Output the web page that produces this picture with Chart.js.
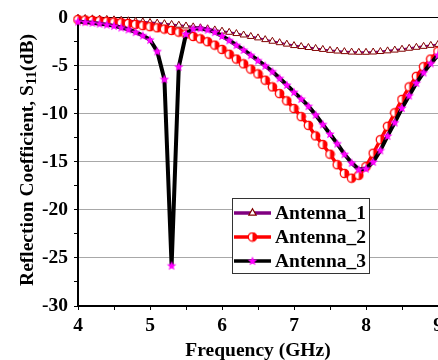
<!DOCTYPE html>
<html>
<head>
<meta charset="utf-8">
<script src="https://cdn.jsdelivr.net/npm/chart.js@4/dist/chart.umd.min.js"></script>
<style>
  html, body { margin: 0; padding: 0; background: #fff; overflow: hidden; }
  #wrap { width: 438px; height: 360px; overflow: hidden; position: relative; }
  canvas { display: block; }
</style>
</head>
<body>
<div id="wrap"><canvas id="c" width="449" height="360"></canvas></div>
<script>
// ---- data ----
const freq = [4.0,4.1,4.2,4.3,4.4,4.5,4.6,4.7,4.8,4.9,
              5.0,5.1,5.2,5.3,5.4,5.5,5.6,5.7,5.8,5.9,
              6.0,6.1,6.2,6.3,6.4,6.5,6.6,6.7,6.8,6.9,
              7.0,7.1,7.2,7.3,7.4,7.5,7.6,7.7,7.8,7.9,
              8.0,8.1,8.2,8.3,8.4,8.5,8.6,8.7,8.8,8.9,9.0];
const antenna1 = [-0.05,-0.08,-0.12,-0.15,-0.18,-0.22,-0.27,-0.32,-0.38,-0.43,
                  -0.5,-0.56,-0.62,-0.7,-0.78,-0.86,-0.95,-1.05,-1.15,-1.27,
                  -1.4,-1.52,-1.65,-1.8,-1.95,-2.1,-2.28,-2.45,-2.6,-2.75,
                  -2.9,-3.0,-3.1,-3.2,-3.3,-3.4,-3.47,-3.53,-3.58,-3.6,
                  -3.6,-3.57,-3.52,-3.45,-3.37,-3.28,-3.18,-3.08,-2.98,-2.88,-2.78];
const antenna2 = [-0.2,-0.24,-0.28,-0.33,-0.38,-0.45,-0.52,-0.6,-0.7,-0.82,
                  -0.93,-1.05,-1.18,-1.33,-1.5,-1.7,-1.95,-2.2,-2.5,-2.85,
                  -3.3,-3.8,-4.3,-4.8,-5.35,-5.85,-6.5,-7.2,-7.9,-8.65,
                  -9.45,-10.3,-11.2,-12.3,-13.2,-14.2,-15.3,-16.2,-16.7,-16.4,
                  -15.5,-14.1,-12.7,-11.3,-9.9,-8.5,-7.2,-6.1,-5.1,-4.3,-3.5];
const antenna3 = [-0.4,-0.46,-0.53,-0.62,-0.72,-0.85,-1.02,-1.22,-1.5,-1.85,
                  -2.3,-3.5,-6.4,-25.8,-5.1,-1.7,-1.15,-1.1,-1.25,-1.5,
                  -1.9,-2.35,-2.85,-3.35,-3.9,-4.45,-5.0,-5.6,-6.3,-7.0,
                  -7.75,-8.45,-9.2,-10.1,-11.1,-12.1,-13.1,-14.2,-15.1,-15.8,
                  -15.7,-15.0,-13.8,-12.3,-10.9,-9.4,-8.1,-6.8,-5.7,-4.75,-3.9];
const seriesNames = ['Antenna_1','Antenna_2','Antenna_3'];
const xTickLabels = [4,5,6,7,8,9];
const yTickLabels = [0,-5,-10,-15,-20,-25,-30];

// ---- marker images ----
function halfCircle(color) {
  const c = document.createElement('canvas'); c.width = 11; c.height = 11;
  const g = c.getContext('2d');
  g.beginPath(); g.arc(5.5,5.5,4.2,0,Math.PI*2); g.fillStyle = '#fff'; g.fill();
  g.beginPath(); g.moveTo(5.5,1.3); g.arc(5.5,5.5,4.2,-Math.PI/2,Math.PI/2); g.closePath();
  g.fillStyle = color; g.fill();
  g.beginPath(); g.arc(5.5,5.5,4.2,0,Math.PI*2); g.lineWidth = 1.3; g.strokeStyle = color; g.stroke();
  return c;
}
function starImg(color) {
  const c = document.createElement('canvas'); c.width = 12; c.height = 12;
  const g = c.getContext('2d');
  const cx = 6, cy = 6.3, ro = 5, ri = 2.1;
  g.beginPath();
  for (let i = 0; i < 10; i++) {
    const r = i % 2 ? ri : ro;
    const a = -Math.PI/2 + i*Math.PI/5;
    const px = cx + r*Math.cos(a), py = cy + r*Math.sin(a);
    i ? g.lineTo(px,py) : g.moveTo(px,py);
  }
  g.closePath(); g.fillStyle = color; g.fill();
  return c;
}
const circleMark = halfCircle('#ff0000');
const starMark = starImg('#ff00ff');

function pts(arr) { return arr.map((v,i) => ({x: freq[i], y: v})); }

const FONT = 'Liberation Serif';

// ---- y title with subscript ----
const yTitlePlugin = {
  id: 'yTitle',
  afterDraw(chart) {
    const ctx = chart.ctx;
    ctx.save();
    ctx.translate(33, 160);
    ctx.rotate(-Math.PI/2);
    ctx.fillStyle = '#000';
    ctx.textBaseline = 'alphabetic';
    const big = 'bold 19.5px "' + FONT + '"';
    const small = 'bold 15px "' + FONT + '"';
    const p1 = 'Reflection Coefficient, S', p2 = '11', p3 = '(dB)';
    ctx.font = big; const w1 = ctx.measureText(p1).width, w3 = ctx.measureText(p3).width;
    ctx.font = small; const w2 = ctx.measureText(p2).width;
    let x = -(w1 + w2 + w3)/2;
    ctx.font = big; ctx.fillText(p1, x, 0); x += w1;
    ctx.font = small; ctx.fillText(p2, x, 3); x += w2;
    ctx.font = big; ctx.fillText(p3, x, 0);
    ctx.restore();
  }
};

// ---- legend ----
const legendPlugin = {
  id: 'boxLegend',
  afterDraw(chart) {
    const ctx = chart.ctx;
    const bx = 232.5, by = 198.5, bw = 137, bh = 75;
    ctx.save();
    ctx.fillStyle = '#fff'; ctx.fillRect(bx, by, bw, bh);
    ctx.strokeStyle = '#333'; ctx.lineWidth = 1; ctx.strokeRect(bx, by, bw, bh);
    const rows = [213, 237, 261];
    chart.data.datasets.forEach((ds, i) => {
      const y = rows[i];
      ctx.beginPath(); ctx.moveTo(234, y); ctx.lineTo(271, y);
      ctx.strokeStyle = ds.borderColor; ctx.lineWidth = 3.5; ctx.stroke();
      const mx = 252.5;
      if (ds.pointStyle === 'triangle') {
        const r = 4.2;
        ctx.beginPath();
        ctx.moveTo(mx, y - r);
        ctx.lineTo(mx + r*Math.sin(2*Math.PI/3), y - r*Math.cos(2*Math.PI/3));
        ctx.lineTo(mx + r*Math.sin(4*Math.PI/3), y - r*Math.cos(4*Math.PI/3));
        ctx.closePath();
        ctx.fillStyle = ds.pointBackgroundColor; ctx.fill();
        ctx.strokeStyle = ds.pointBorderColor; ctx.lineWidth = 1.2; ctx.stroke();
      } else {
        const img = ds.pointStyle;
        ctx.drawImage(img, mx - img.width/2, y - img.height/2);
      }
      ctx.fillStyle = '#000';
      ctx.font = 'bold 19.5px "' + FONT + '"';
      ctx.textBaseline = 'middle'; ctx.textAlign = 'left';
      ctx.fillText(ds.label, 275, y + 1);
    });
    ctx.restore();
  }
};

new Chart(document.getElementById('c'), {
  type: 'line',
  data: {
    datasets: [
      { label: seriesNames[0], data: pts(antenna1), borderColor: '#800080', borderWidth: 2,
        pointStyle: 'triangle', pointRadius: 4, pointBorderWidth: 1,
        pointBackgroundColor: '#ffffff', pointBorderColor: '#800000', order: 3, clip: 6 },
      { label: seriesNames[1], data: pts(antenna2), borderColor: '#ff0000', borderWidth: 3.5,
        pointStyle: circleMark, pointRadius: 5, order: 2, clip: 6 },
      { label: seriesNames[2], data: pts(antenna3), borderColor: '#000000', borderWidth: 4,
        pointStyle: starMark, pointRadius: 5, order: 1, clip: 6 }
    ]
  },
  options: {
    responsive: false,
    animation: false,
    events: [],
    layout: { padding: { left: 0, right: 11, top: 14, bottom: 0 } },
    plugins: { legend: { display: false }, tooltip: { enabled: false } },
    elements: { line: { tension: 0 } },
    scales: {
      x: {
        type: 'linear', min: 4, max: 9,
        afterFit(s) { s.height = 54; },
        ticks: {
          stepSize: 0.5, autoSkip: false, maxRotation: 0, padding: 4, color: '#000',
          font: { family: FONT, size: 19.5, weight: 'bold' },
          callback: v => xTickLabels.includes(v) ? String(v) : ''
        },
        grid: { drawOnChartArea: false, color: '#000', tickColor: '#000', tickLength: 4, lineWidth: 1 },
        border: { color: '#000', width: 2 },
        title: { display: true, text: 'Frequency (GHz)', color: '#000',
                 font: { family: FONT, size: 19.5, weight: 'bold' }, padding: { top: 0, bottom: -3 } }
      },
      y: {
        min: -30, max: 0,
        afterFit(s) { s.width = 78; },
        ticks: {
          stepSize: 2.5, autoSkip: false, padding: 6, color: '#000',
          font: { family: FONT, size: 19.5, weight: 'bold' },
          callback: v => yTickLabels.includes(v) ? String(v) : ''
        },
        grid: {
          tickLength: 4, lineWidth: 1,
          color: c => (c.tick.value === 0 ? '#000' : (c.tick.value % 5 === 0 && c.tick.value !== -30 ? '#a8a8a8' : 'rgba(0,0,0,0)')),
          tickColor: '#000'
        },
        border: { color: '#000', width: 2 }
      }
    }
  },
  plugins: [yTitlePlugin, legendPlugin]
});
</script>
</body>
</html>
